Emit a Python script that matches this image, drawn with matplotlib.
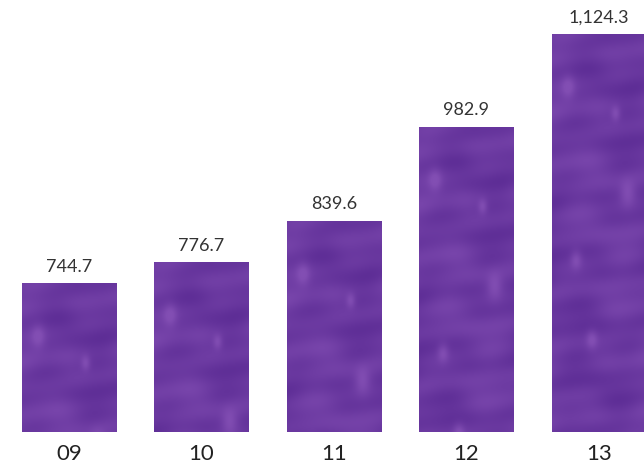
import matplotlib
matplotlib.use("Agg")
import matplotlib.pyplot as plt
import numpy as np

years = ["09", "10", "11", "12", "13"]
values = [744.7, 776.7, 839.6, 982.9, 1124.3]

plt.rcParams["font.family"] = ["Lato", "DejaVu Sans"]

fig = plt.figure(figsize=(6.44, 4.72), dpi=100)
ax = fig.add_axes([0, 1 - 432 / 472, 1, 432 / 472])

x = np.arange(len(years))
bars = ax.bar(x, values, width=0.71, color="#6a31a0", edgecolor="#c2acdc",
              linewidth=0.6, zorder=2)

# soft mottled fill with horizontal streaks, clipped to each bar
yy, xx = np.mgrid[0:300, 0:120] / 1.0
tex = (0.40 * np.sin(yy / 7.3 + 1.1 * np.sin(xx / 19.0))
       + 0.25 * np.sin(yy / 3.1 + xx / 37.0 + 1.3)
       + 0.20 * np.sin(xx / 11.0 + yy / 29.0)
       + 0.30 * np.sin(yy / 41.0 - xx / 27.0 + 0.4))
tex = (tex - tex.min()) / (tex.max() - tex.min())
# a few pale blotches
for cx, cy, r in [(20, 40, 6), (95, 120, 7), (50, 230, 5), (80, 60, 4), (30, 170, 5)]:
    tex = tex + 0.9 * np.exp(-((xx - cx) ** 2 + (yy - cy) ** 2) / (2 * r ** 2))
tex = np.clip(tex, 0, 1.4)
c0 = np.array([0.37, 0.18, 0.59])
c1 = np.array([0.47, 0.27, 0.67])
img = np.clip(c0 + (c1 - c0) * tex[..., None], 0, 1)

ymin = 517.6
for b in bars:
    x0 = b.get_x()
    h = b.get_height()
    rows = int(300 * (h - ymin) / (1124.3 - ymin))
    im = ax.imshow(img[:max(rows, 10)], extent=(x0, x0 + b.get_width(), ymin, h),
                   aspect="auto", zorder=2, interpolation="bicubic")
    im.set_clip_path(b)

for xi, v in zip(x, values):
    ax.annotate(f"{v:,.1f}", (xi, v), xytext=(0, 6), textcoords="offset points",
                ha="center", va="bottom", fontsize=13, color="#333333")

ax.set_xlim(-0.521, 4.343)
ax.set_ylim(ymin, 1176)
ax.set_xticks(x)
ax.set_xticklabels(years, fontsize=16, color="#222222")
ax.tick_params(axis="x", length=0, pad=9)
ax.set_yticks([])
for s in ax.spines.values():
    s.set_visible(False)

fig.savefig("out.png", dpi=100)
